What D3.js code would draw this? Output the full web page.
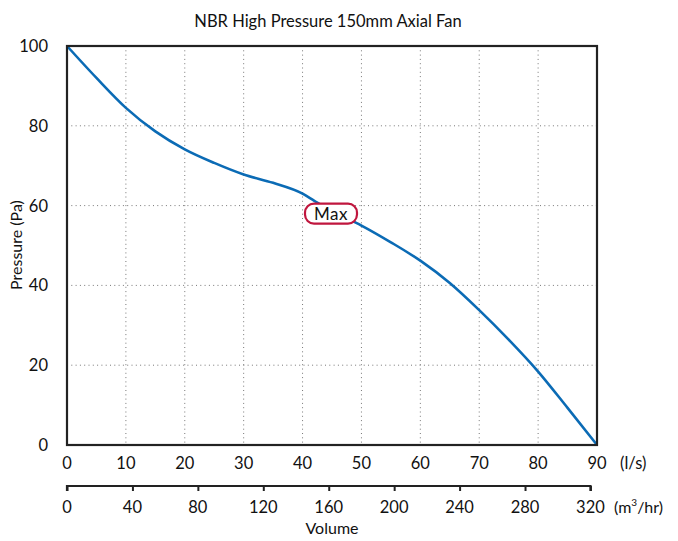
<!DOCTYPE html>
<html><head><meta charset="utf-8">
<script src="https://cdn.jsdelivr.net/npm/d3@7"></script>
<style>
body{margin:0;background:#fff;}
text{font-family:Lato,"Open Sans",sans-serif;fill:#111;}
</style></head>
<body>
<svg id="c" width="678" height="541"></svg>
<script>
const flowLs = [0,5,10,15,20,25,30,35,40,42,45,50,55,60,65,70,75,80,85,90];
const pressure = [100,92,84.5,78.6,74.1,70.7,67.8,65.7,63,61.2,58.6,55,50.8,46.2,40.6,33.8,26.4,18.4,9.3,0];
const lsTicks = [0,10,20,30,40,50,60,70,80,90];
const m3Ticks = [0,40,80,120,160,200,240,280,320];
const yTicks = [0,20,40,60,80,100];
const maxLabel = {x:45, y:58, text:"Max"};

const svg = d3.select("#c");
const L=67,R=597,T=46,B=445;
const x = d3.scaleLinear().domain([0,90]).range([L,R]);
const xm = d3.scaleLinear().domain([0,90*3.6]).range([L,R]);
const y = d3.scaleLinear().domain([0,100]).range([B,T]);

// grid
const g = svg.append("g");
g.selectAll(".gx").data(lsTicks.slice(1,-1)).join("line")
 .attr("x1",d=>x(d)).attr("x2",d=>x(d)).attr("y1",T).attr("y2",B)
 .attr("stroke","#777").attr("stroke-width",1).attr("stroke-dasharray","1,3.3");
g.selectAll(".gy").data(yTicks.slice(1,-1)).join("line")
 .attr("y1",d=>y(d)).attr("y2",d=>y(d)).attr("x1",L).attr("x2",R)
 .attr("stroke","#777").attr("stroke-width",1).attr("stroke-dasharray","1,3.3");

// curve
const line = d3.line().x((d,i)=>x(flowLs[i])).y(d=>y(d)).curve(d3.curveMonotoneX);
svg.append("path").datum(pressure).attr("d",line).attr("fill","none")
 .attr("stroke","#0b6bb5").attr("stroke-width",2.6);

// frame
svg.append("rect").attr("x",L).attr("y",T).attr("width",R-L).attr("height",B-T)
 .attr("fill","none").attr("stroke","#222").attr("stroke-width",2.2);

// Max label
const mx=x(maxLabel.x), my=y(maxLabel.y);
svg.append("rect").attr("x",mx-27).attr("y",my-10).attr("width",52).attr("height",20)
 .attr("rx",9).attr("fill","#fff").attr("stroke","#c0163e").attr("stroke-width",2.2);
svg.append("text").attr("x",mx-1).attr("y",my+6).attr("text-anchor","middle")
 .attr("font-size",17).attr("letter-spacing",0.5).text(maxLabel.text);

// y tick labels
svg.selectAll(".yt").data(yTicks).join("text")
 .attr("x",L-19).attr("y",d=>y(d)+6).attr("text-anchor","end").attr("font-size",16.5).text(d=>d);

// x tick labels (l/s)
svg.selectAll(".xt").data(lsTicks).join("text")
 .attr("x",d=>x(d)).attr("y",469).attr("text-anchor","middle").attr("font-size",16.5).text(d=>d);
svg.append("text").attr("x",620).attr("y",469).attr("font-size",16.5).text("(l/s)");

// second axis
const ax2 = d3.axisBottom(xm).tickValues(m3Ticks).tickSize(5).tickFormat("");
const a2 = svg.append("g").attr("transform","translate(0,486)").call(ax2);
a2.select(".domain").attr("d",`M${xm(0)},5V0H${xm(320)}V5`).attr("stroke","#222").attr("stroke-width",2.2);
a2.selectAll(".tick line").attr("stroke","#222").attr("stroke-width",2);
svg.selectAll(".mt").data(m3Ticks).join("text")
 .attr("x",d=>xm(d)).attr("y",513).attr("text-anchor","middle").attr("font-size",16.5).text(d=>d);
const u = svg.append("text").attr("x",614).attr("y",513).attr("font-size",16);
u.append("tspan").text("(m");
u.append("tspan").attr("font-size",10).attr("dy",-7).text("3");
u.append("tspan").attr("dy",7).text("/hr)");

svg.append("text").attr("x",332).attr("y",534).attr("text-anchor","middle").attr("font-size",16).text("Volume");
svg.append("text").attr("x",328).attr("y",27).attr("text-anchor","middle").attr("font-size",16.5).text("NBR High Pressure 150mm Axial Fan");
svg.append("text").attr("transform","translate(22,245) rotate(-90)").attr("text-anchor","middle").attr("font-size",16).text("Pressure (Pa)");
</script>
</body></html>
